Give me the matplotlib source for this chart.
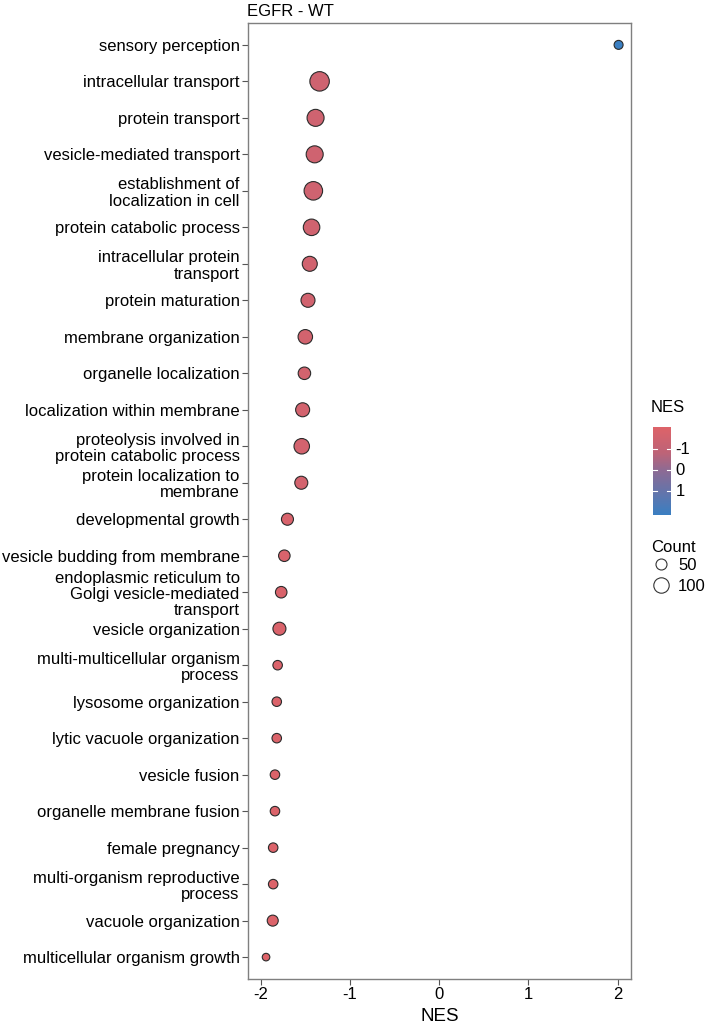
import numpy as np
import matplotlib
matplotlib.use("Agg")
import matplotlib.pyplot as plt
from matplotlib.colors import LinearSegmentedColormap, Normalize
from matplotlib.lines import Line2D

plt.rcParams['font.family'] = ['Liberation Sans', 'DejaVu Sans']

# GO terms, top to bottom
terms = [
    "sensory perception",
    "intracellular transport",
    "protein transport",
    "vesicle-mediated transport",
    "establishment of\nlocalization in cell",
    "protein catabolic process",
    "intracellular protein\ntransport",
    "protein maturation",
    "membrane organization",
    "organelle localization",
    "localization within membrane",
    "proteolysis involved in\nprotein catabolic process",
    "protein localization to\nmembrane",
    "developmental growth",
    "vesicle budding from membrane",
    "endoplasmic reticulum to\nGolgi vesicle-mediated\ntransport",
    "vesicle organization",
    "multi-multicellular organism\nprocess",
    "lysosome organization",
    "lytic vacuole organization",
    "vesicle fusion",
    "organelle membrane fusion",
    "female pregnancy",
    "multi-organism reproductive\nprocess",
    "vacuole organization",
    "multicellular organism growth",
]
nes = [2.01, -1.34, -1.385, -1.395, -1.41, -1.43, -1.45, -1.47, -1.50, -1.51,
       -1.53, -1.54, -1.545, -1.70, -1.735, -1.77, -1.79, -1.81, -1.82, -1.82,
       -1.84, -1.84, -1.86, -1.86, -1.865, -1.94]
counts = [40, 196, 149, 149, 177, 140, 115, 100, 107, 79,
          100, 123, 86, 73, 67, 67, 86, 45, 45, 45,
          45, 45, 45, 45, 61, 28]
legend_counts = [50, 100]
cbar_ticks = [-1, 0, 1]


def marker_area(c):
    # diameter in px grows with sqrt(count), returned as points^2 (dpi 100)
    d_px = 1.365 * np.sqrt(np.asarray(c, dtype=float)) + 0.35
    d_pt = d_px * 72 / 100
    return d_pt ** 2


cmap = LinearSegmentedColormap.from_list(
    "nes", [(0.0, "#DE6369"), (0.3, "#BD6478"), (0.5, "#8C6B95"), (1.0, "#3A7FC2")])
norm = Normalize(vmin=min(nes), vmax=max(nes))

fig = plt.figure(figsize=(7.09, 10.26), dpi=100)
ax = fig.add_axes([0.3498, 0.0458, 0.5398, 0.9318])

y = np.arange(len(terms))
ax.scatter(nes, y, s=marker_area(counts), c=nes, cmap=cmap, norm=norm,
           edgecolors="#2b2b2b", linewidths=0.8, zorder=3)

ax.set_xlim(-2.142, 2.146)
ax.set_ylim(len(terms) - 0.4, -0.6)
ax.set_yticks(y)
ax.set_yticklabels(terms, fontsize=12, color="black", linespacing=1.1,
                   multialignment="right")
ax.set_xticks([-2, -1, 0, 1, 2])
ax.set_xticklabels(["-2", "-1", "0", "1", "2"], fontsize=12, color="black")
ax.tick_params(axis="both", direction="out", length=4, width=0.8,
               color="#555555", pad=2)
for sp in ax.spines.values():
    sp.set_color("#7f7f7f")
    sp.set_linewidth(1.0)
ax.set_xlabel("NES", fontsize=13.5, labelpad=4)
ax.set_title("EGFR - WT", fontsize=12, loc="left", pad=5, x=-0.002)

# colourbar (reversed: low NES at top)
cax = fig.add_axes([653 / 709, 1 - 515 / 1026, 18 / 709, 88 / 1026])
grad = np.linspace(min(nes), max(nes), 256).reshape(-1, 1)
cax.imshow(grad, aspect="auto", cmap=cmap, norm=norm,
           extent=[0, 1, max(nes) + 0.1, min(nes) - 0.1])
cax.set_xticks([])
cax.set_yticks([])
for sp in cax.spines.values():
    sp.set_visible(False)
for t in cbar_ticks:
    cax.plot([0, 0.2], [t, t], color="white", lw=0.8)
    cax.plot([0.8, 1], [t, t], color="white", lw=0.8)
    cax.text(1.25, t, str(t), fontsize=12, va="center", ha="left",
             transform=cax.transData, clip_on=False)
cax.set_xlim(0, 1)
cax.set_ylim(max(nes) + 0.1, min(nes) - 0.1)
fig.text(651 / 709, 1 - 408 / 1026, "NES", fontsize=12, ha="left", va="center")

# size legend
fig.text(651 / 709, 1 - 547 / 1026, "Count", fontsize=12, ha="left", va="center")
handles = [Line2D([], [], linestyle="none", marker="o",
                  markersize=np.sqrt(marker_area(c)) * 1.1, markerfacecolor="white",
                  markeredgecolor="#333333", markeredgewidth=0.8)
           for c in legend_counts]
leg = fig.legend(handles, [str(c) for c in legend_counts],
                 loc="upper left", bbox_to_anchor=(649 / 709, 1 - 558 / 1026),
                 frameon=False, fontsize=12, handletextpad=0.35,
                 labelspacing=0.35, borderpad=0, borderaxespad=0,
                 handlelength=1.4)

fig.savefig("out.png", dpi=100)
